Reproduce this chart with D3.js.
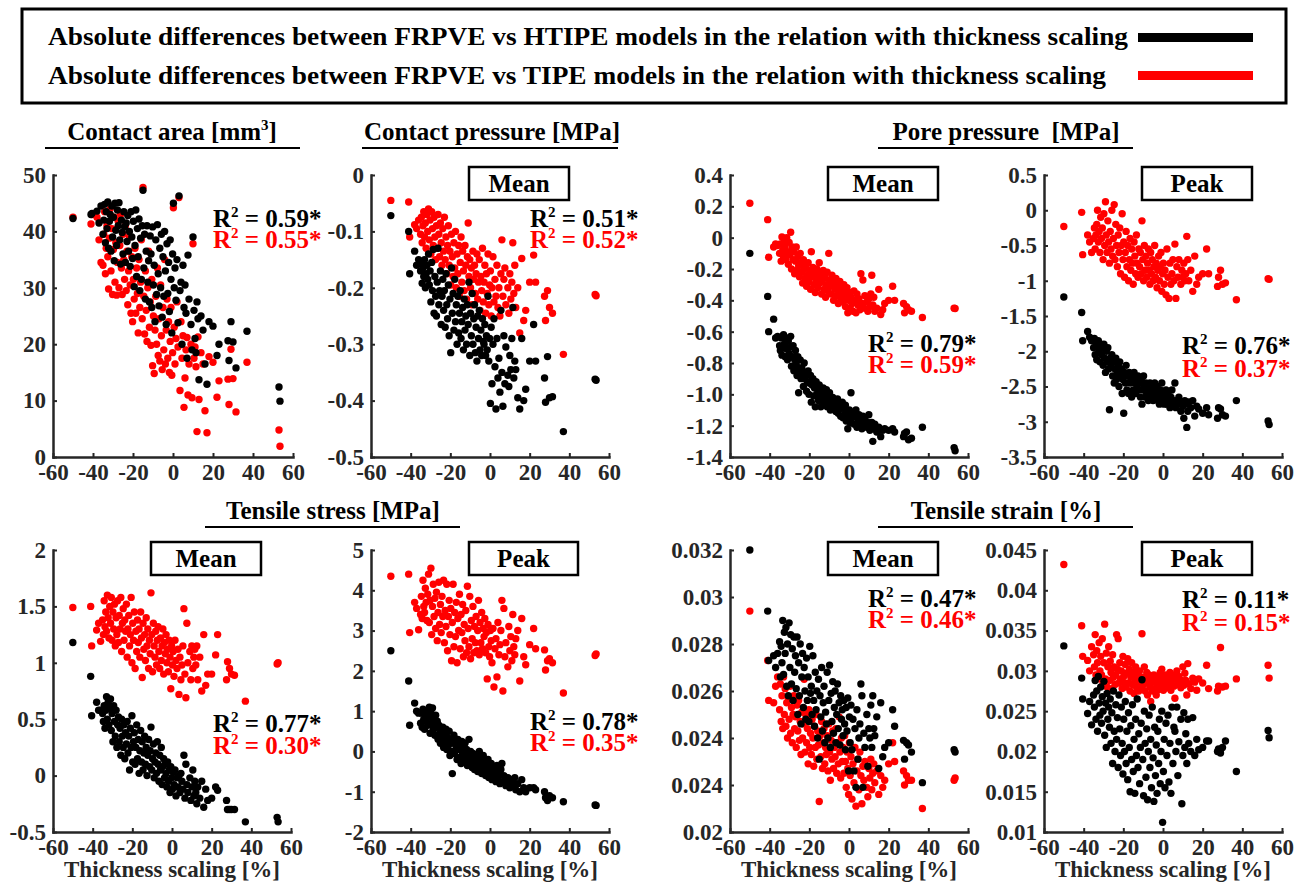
<!DOCTYPE html>
<html>
<head>
<meta charset="utf-8">
<script src="https://cdn.jsdelivr.net/npm/d3@7"></script>
<style>
body { margin:0; background:#fff; }
svg text { font-family: "Liberation Serif", "Times New Roman", serif; font-weight: bold; white-space: pre; }
</style>
</head>
<body>
<svg id="fig" width="1306" height="887"></svg>
<script>
// thickness scaling [%] of each case, shared by every panel
var thicknessScaling = [
  -50, -41, -40.5, -38, -37, -36,
  -35, -34.6, -34.2, -33.8, -33.4, -33, -32.6, -32.2, -31.8, -31.4,
  -31, -30.6, -30.2, -29.8, -29.4, -29, -28.6, -28.2, -27.8, -27.4,
  -27, -26.6, -26.2, -25.8, -25.4, -25, -24.6, -24.2, -23.8, -23.4,
  -23, -22.6, -22.2, -21.8, -21.4, -21, -20.6, -20.2, -19.8, -19.4,
  -19, -18.6, -18.2, -17.8, -17.4, -17, -16.6, -16.2, -15.8, -15.4,
  -15, -14.6, -14.2, -13.8, -13.4, -13, -12.6, -12.2, -11.8, -11.4,
  -11, -10.6, -10.2, -9.8, -9.4, -9, -8.6, -8.2, -7.8, -7.4,
  -7, -6.6, -6.2, -5.8, -5.4, -5, -4.6, -4.2, -3.8, -3.4,
  -3, -2.6, -2.2, -1.8, -1.4, -1, -0.6, -0.2, 0.2, 0.6,
  1, 1.5, 2, 2.5, 3, 3.5, 4, 4.5, 5, 5.5,
  6, 6.5, 7, 7.5, 8, 9, 9.5, 10, 10.5, 11,
  11.5, 12, 12.5, 13, 14, 15, 16, 17, 18, 20,
  22, 23, 27.5, 28, 29, 30, 31.5, 37, 53, 53.5
];

// contact area [mm3]
var contactAreaHTIPE = [
  42.3, 43.0, 43.2, 43.6, 41.5, 44.5,
  39.5, 42.0, 44.8, 38.0, 43.5, 40.5, 45.2, 37.0, 41.8, 43.0,
  36.5, 44.5, 39.0, 42.5, 34.8, 45.0, 40.2, 37.5, 43.8, 41.0,
  45.1, 38.5, 34.2, 42.0, 39.8, 36.0, 43.5, 40.8, 34.5, 41.5,
  38.2, 42.8, 36.5, 40.0, 33.8, 43.5, 39.0, 35.2, 41.8, 30.2,
  37.5, 43.8, 32.0, 40.5, 35.5, 42.2, 29.5, 38.8, 31.5, 41.0,
  47.3, 33.5, 39.5, 28.0, 36.5, 41.0, 31.0, 34.8, 27.5, 39.2,
  36.0, 26.5, 40.8, 30.5, 34.0, 24.0, 38.5, 28.8, 41.2, 32.5,
  26.8, 37.0, 30.0, 39.5, 24.8, 35.5, 28.5, 40.0, 33.0, 23.5,
  37.8, 29.0, 34.5, 25.8, 38.5, 31.5, 22.0, 36.0, 45.0, 30.0,
  33.5, 27.8, 35.0, 23.8, 46.3, 29.5, 31.0, 20.0, 34.0, 26.5,
  30.5, 25.5, 17.5, 35.8, 28.0, 23.5, 19.0, 39.0, 26.0, 21.0,
  18.5, 27.5, 24.5, 13.7, 25.0, 22.5, 16.5, 12.9, 24.0, 23.2,
  18.0, 20.0, 20.6, 17.1, 24.0, 20.4, 15.8, 22.3, 12.4, 9.9
];
var contactAreaTIPE = [
  42.5, 41.3, 43.0, 42.5, 38.5, 34.5,
  34.0, 39.5, 43.5, 32.5, 37.0, 41.0, 35.5, 29.8, 38.8, 44.0,
  33.0, 40.5, 28.8, 36.8, 42.5, 31.0, 38.0, 28.7, 34.5, 41.8,
  30.0, 37.5, 43.0, 33.5, 28.8, 39.5, 35.0, 31.5, 41.0, 29.5,
  36.5, 27.0, 33.0, 39.0, 30.5, 25.5, 35.5, 24.0, 31.5, 28.0,
  37.0, 25.5, 33.5, 29.0, 22.0, 35.0, 26.5, 31.0, 38.5, 24.5,
  47.8, 28.5, 21.8, 33.0, 26.0, 20.5, 30.0, 36.5, 23.0, 27.5,
  19.8, 31.5, 16.2, 25.0, 14.8, 22.5, 28.5, 20.0, 33.5, 18.0,
  24.5, 17.0, 30.5, 21.5, 15.5, 26.5, 19.0, 35.0, 16.5, 22.5,
  28.0, 17.5, 24.0, 15.0, 20.5, 26.5, 14.5, 18.5, 44.2, 23.0,
  16.5, 21.0, 27.5, 19.5, 46.0, 11.8, 24.0, 17.5, 21.5, 8.8,
  14.0, 19.0, 21.2, 11.0, 16.5, 20.0, 10.5, 37.8, 17.5, 19.5,
  16.0, 4.5, 21.3, 10.2, 18.5, 16.5, 8.2, 4.3, 17.8, 16.8,
  10.6, 13.5, 13.8, 9.3, 19.1, 13.9, 8.0, 16.8, 4.8, 1.9
];

// contact pressure, mean [MPa]
var contactPressureHTIPE = [
  -0.072, -0.100, -0.175, -0.135, -0.160, -0.150,
  -0.170, -0.155, -0.192, -0.165, -0.180, -0.150, -0.200, -0.175, -0.160, -0.185,
  -0.140, -0.195, -0.170, -0.225, -0.155, -0.205, -0.132, -0.245, -0.180, -0.215,
  -0.250, -0.190, -0.130, -0.230, -0.205, -0.170, -0.265, -0.215, -0.185, -0.240,
  -0.205, -0.270, -0.175, -0.230, -0.255, -0.195, -0.285, -0.220, -0.315, -0.165,
  -0.245, -0.210, -0.275, -0.185, -0.260, -0.230, -0.300, -0.215, -0.280, -0.245,
  -0.205, -0.290, -0.260, -0.235, -0.310, -0.220, -0.275, -0.250, -0.300, -0.230,
  -0.265, -0.190, -0.320, -0.245, -0.285, -0.210, -0.300, -0.255, -0.230, -0.315,
  -0.270, -0.330, -0.250, -0.290, -0.240, -0.310, -0.275, -0.320, -0.255, -0.295,
  -0.300, -0.265, -0.320, -0.285, -0.310, -0.215, -0.330, -0.290, -0.405, -0.270,
  -0.370, -0.300, -0.255, -0.340, -0.415, -0.290, -0.360, -0.325, -0.385, -0.240,
  -0.350, -0.410, -0.285, -0.370, -0.305, -0.355, -0.375, -0.320, -0.345, -0.290,
  -0.235, -0.360, -0.330, -0.345, -0.395, -0.415, -0.290, -0.400, -0.380, -0.330,
  -0.265, -0.330, -0.360, -0.403, -0.322, -0.395, -0.393, -0.455, -0.362, -0.364
];
var contactPressureTIPE = [
  -0.045, -0.048, -0.110, -0.088, -0.095, -0.080,
  -0.105, -0.075, -0.120, -0.090, -0.065, -0.110, -0.085, -0.130, -0.070, -0.100,
  -0.060, -0.115, -0.080, -0.140, -0.065, -0.095, -0.125, -0.075, -0.110, -0.150,
  -0.090, -0.130, -0.070, -0.105, -0.145, -0.085, -0.120, -0.160, -0.095, -0.135,
  -0.075, -0.150, -0.110, -0.175, -0.125, -0.090, -0.160, -0.135, -0.195, -0.105,
  -0.145, -0.180, -0.120, -0.165, -0.100, -0.200, -0.140, -0.175, -0.125, -0.215,
  -0.155, -0.110, -0.190, -0.135, -0.170, -0.205, -0.125, -0.160, -0.220, -0.145,
  -0.085, -0.180, -0.150, -0.200, -0.165, -0.230, -0.135, -0.185, -0.160, -0.210,
  -0.175, -0.140, -0.220, -0.190, -0.150, -0.240, -0.180, -0.205, -0.130, -0.225,
  -0.190, -0.160, -0.245, -0.175, -0.210, -0.140, -0.230, -0.195, -0.170, -0.250,
  -0.200, -0.145, -0.225, -0.185, -0.215, -0.160, -0.235, -0.200, -0.250, -0.175,
  -0.115, -0.215, -0.185, -0.165, -0.230, -0.200, -0.245, -0.175, -0.220, -0.190,
  -0.120, -0.210, -0.160, -0.235, -0.200, -0.280, -0.148, -0.258, -0.240, -0.190,
  -0.142, -0.190, -0.215, -0.258, -0.205, -0.235, -0.245, -0.318, -0.212, -0.214
];

// pore pressure, mean [MPa]
var poreMeanHTIPE = [
  -0.100, -0.375, -0.600, -0.520, -0.640, -0.630,
  -0.690, -0.720, -0.640, -0.750, -0.700, -0.620, -0.680, -0.760, -0.640, -0.710,
  -0.780, -0.660, -0.740, -0.700, -0.630, -0.820, -0.760, -0.690, -0.850, -0.780,
  -0.720, -0.810, -0.880, -0.760, -0.990, -0.840, -0.780, -0.900, -0.830, -0.870,
  -0.950, -0.800, -0.900, -0.860, -0.980, -0.920, -0.850, -1.000, -0.930, -0.880,
  -1.050, -0.940, -0.900, -1.010, -0.960, -1.080, -0.920, -1.000, -0.970, -1.040,
  -0.940, -1.020, -1.080, -0.980, -1.040, -0.960, -1.060, -1.000, -1.030, -0.970,
  -1.080, -1.010, -1.050, -0.990, -1.100, -1.040, -1.070, -1.020, -1.090, -1.050,
  -1.040, -1.110, -1.070, -1.030, -1.120, -1.060, -1.090, -1.140, -1.080, -1.050,
  -1.150, -1.090, -1.130, -1.070, -1.170, -1.110, -1.220, -1.140, -1.100, -1.180,
  -0.990, -1.150, -1.120, -1.190, -1.140, -1.100, -1.210, -1.160, -1.130, -1.200,
  -1.170, -1.220, -1.140, -1.190, -1.160, -1.210, -1.180, -1.130, -1.230, -1.200,
  -1.180, -1.300, -1.220, -1.190, -1.240, -1.210, -1.270, -1.230, -1.220, -1.230,
  -1.220, -1.240, -1.270, -1.250, -1.240, -1.290, -1.280, -1.210, -1.340, -1.360
];
var poreMeanTIPE = [
  0.220, 0.115, -0.125, -0.060, -0.040, -0.050,
  -0.100, -0.040, -0.150, 0.005, -0.080, -0.120, -0.020, -0.060, -0.140, 0.000,
  -0.090, -0.170, -0.030, -0.110, 0.035, -0.200, -0.060, -0.140, -0.090, -0.230,
  -0.150, -0.060, -0.210, -0.120, -0.180, -0.250, -0.100, -0.160, -0.220, -0.290,
  -0.140, -0.200, -0.260, -0.180, -0.310, -0.240, -0.160, -0.280, -0.210, -0.330,
  -0.090, -0.250, -0.190, -0.300, -0.230, -0.350, -0.270, -0.200, -0.320, -0.260,
  -0.160, -0.290, -0.230, -0.360, -0.270, -0.210, -0.330, -0.250, -0.380, -0.300,
  -0.220, -0.340, -0.100, -0.270, -0.310, -0.360, -0.240, -0.300, -0.400, -0.280,
  -0.330, -0.260, -0.370, -0.300, -0.420, -0.340, -0.280, -0.390, -0.320, -0.360,
  -0.410, -0.300, -0.350, -0.440, -0.380, -0.320, -0.480, -0.400, -0.350, -0.450,
  -0.380, -0.420, -0.470, -0.340, -0.400, -0.480, -0.360, -0.430, -0.390, -0.460,
  -0.230, -0.420, -0.270, -0.450, -0.370, -0.410, -0.470, -0.390, -0.440, -0.360,
  -0.240, -0.430, -0.380, -0.470, -0.450, -0.330, -0.490, -0.460, -0.420, -0.400,
  -0.310, -0.400, -0.420, -0.480, -0.440, -0.460, -0.470, -0.510, -0.450, -0.452
];

// pore pressure, peak [MPa]
var porePeakHTIPE = [
  -1.23, -1.45, -1.85, -1.72, -1.80, -1.85,
  -1.95, -1.82, -2.05, -1.88, -2.12, -1.92, -1.85, -2.00, -2.15, -1.90,
  -2.05, -1.95, -2.20, -1.90, -2.10, -2.30, -2.00, -2.15, -1.95, -2.25,
  -2.83, -2.10, -2.20, -2.05, -2.35, -2.15, -2.45, -2.25, -2.10, -2.40,
  -2.30, -2.20, -2.50, -2.15, -2.35, -2.25, -2.60, -2.40, -2.88, -2.30,
  -2.45, -2.20, -2.55, -2.35, -2.60, -2.30, -2.45, -2.40, -2.65, -2.35,
  -2.55, -2.30, -2.45, -2.60, -2.40, -2.50, -2.35, -2.55, -2.45, -2.65,
  -2.40, -2.75, -2.55, -2.35, -2.50, -2.65, -2.45, -2.60, -2.50, -2.70,
  -2.55, -2.45, -2.65, -2.50, -2.60, -2.70, -2.55, -2.45, -2.65, -2.60,
  -2.50, -2.70, -2.60, -2.75, -2.55, -2.65, -2.45, -2.70, -2.60, -2.75,
  -2.65, -2.55, -2.75, -2.60, -2.70, -2.80, -2.65, -2.55, -2.75, -2.70,
  -2.45, -2.80, -2.70, -2.75, -2.65, -2.85, -2.72, -2.78, -2.95, -2.70,
  -2.75, -3.08, -2.85, -2.72, -2.80, -2.70, -2.92, -2.78, -2.82, -2.88,
  -2.80, -2.90, -2.95, -2.80, -2.82, -2.90, -2.92, -2.70, -2.99, -3.04
];
var porePeakTIPE = [
  -0.23, -0.03, -0.63, -0.35, -0.45, -0.60,
  -0.40, -0.25, -0.55, -0.35, -0.20, 0.00, -0.45, -0.30, -0.60, -0.10,
  -0.40, -0.25, -0.70, -0.05, -0.50, 0.12, -0.35, -0.60, -0.15, -0.45,
  -0.75, -0.30, -0.55, 0.00, -0.65, -0.40, 0.08, -0.70, -0.20, -0.50,
  -0.80, -0.35, -0.60, -0.25, -0.90, -0.50, -0.05, -0.70, -0.45, -0.95,
  -0.60, -0.30, -0.80, -0.50, -1.00, -0.70, -0.40, -0.85, -0.55, -0.75,
  -1.05, -0.45, -0.65, -0.90, -0.35, -0.75, -0.95, -0.55, -0.80, -0.60,
  -0.90, -0.15, -0.70, -1.00, -0.50, -0.85, -0.65, -0.95, -0.75, -0.55,
  -0.85, -1.05, -0.60, -0.90, -0.70, -1.00, -0.80, -0.50, -0.95, -0.75,
  -1.10, -0.85, -0.65, -1.00, -0.80, -0.60, -1.15, -0.90, -0.75, -1.05,
  -0.85, -1.20, -0.55, -0.95, -1.25, -0.75, -1.05, -0.90, -0.70, -1.00,
  -0.48, -1.25, -0.80, -0.95, -0.70, -1.05, -0.85, -0.95, -0.75, -1.00,
  -0.90, -0.37, -0.70, -1.00, -0.85, -1.15, -0.65, -1.05, -0.95, -0.90,
  -0.55, -0.90, -1.08, -0.95, -0.85, -1.05, -1.03, -1.27, -0.97, -0.98
];

// tensile stress, mean [MPa]
var stressMeanHTIPE = [
  1.18, 0.88, 0.53, 0.65, 0.58, 0.58,
  0.55, 0.48, 0.62, 0.42, 0.58, 0.70, 0.50, 0.65, 0.45, 0.60,
  0.68, 0.40, 0.55, 0.30, 0.62, 0.48, 0.35, 0.58, 0.25, 0.45,
  0.52, 0.30, 0.42, 0.18, 0.50, 0.35, 0.25, 0.45, 0.15, 0.38,
  0.28, 0.48, 0.20, 0.35, 0.05, 0.42, 0.25, 0.53, 0.12, 0.30,
  0.38, 0.10, 0.25, 0.45, 0.15, 0.32, 0.02, 0.22, 0.40, 0.12,
  0.30, 0.05, 0.20, 0.35, 0.10, 0.25, 0.00, 0.18, 0.32, 0.08,
  0.22, 0.43, 0.05, 0.15, 0.28, -0.02, 0.12, 0.20, 0.02, 0.30,
  0.10, -0.05, 0.18, 0.05, 0.25, -0.08, 0.08, 0.15, -0.02, 0.10,
  0.02, -0.10, 0.12, -0.05, 0.05, -0.15, 0.08, -0.02, -0.12, 0.03,
  -0.08, 0.05, -0.18, -0.02, -0.10, 0.00, -0.15, 0.02, -0.05, -0.12,
  0.18, -0.20, 0.10, -0.08, -0.15, -0.02, -0.22, -0.10, 0.05, -0.18,
  -0.05, -0.15, -0.25, -0.10, -0.20, -0.05, -0.28, -0.12, -0.22, -0.20,
  -0.10, -0.13, -0.22, -0.30, -0.30, -0.30, -0.30, -0.41, -0.37, -0.41
];
var stressMeanTIPE = [
  1.49, 1.50, 1.15, 1.29, 1.35, 1.19,
  1.38, 1.25, 1.55, 1.32, 1.45, 1.28, 1.60, 1.40, 1.22, 1.50,
  1.35, 1.58, 1.20, 1.45, 1.30, 1.52, 1.15, 1.40, 1.25, 1.55,
  1.18, 1.42, 1.30, 1.58, 1.10, 1.35, 1.48, 1.20, 1.38, 1.28,
  1.52, 1.05, 1.30, 1.42, 1.15, 1.25, 1.58, 1.00, 1.35, 1.20,
  1.45, 0.95, 1.28, 1.10, 1.38, 1.18, 1.30, 1.05, 1.45, 1.22,
  0.87, 1.35, 1.12, 1.25, 1.02, 1.40, 1.15, 1.30, 0.95, 1.20,
  1.08, 1.62, 1.25, 0.92, 1.35, 1.15, 1.05, 1.28, 0.98, 1.20,
  1.32, 1.10, 0.95, 1.22, 1.02, 1.15, 1.30, 0.90, 1.18, 1.08,
  1.25, 1.00, 1.12, 0.92, 1.20, 1.05, 0.77, 1.15, 0.98, 1.10,
  0.88, 1.20, 1.02, 0.95, 1.12, 0.72, 1.05, 0.85, 0.98, 1.15,
  1.48, 0.90, 0.69, 1.35, 1.00, 1.10, 0.85, 1.15, 0.95, 1.05,
  1.12, 0.98, 1.15, 0.85, 1.05, 0.75, 1.25, 0.80, 0.90, 0.90,
  1.07, 1.25, 0.85, 1.01, 0.95, 0.90, 0.89, 0.66, 0.99, 1.00
];

// tensile stress, peak [MPa]
var stressPeakHTIPE = [
  2.50, 1.75, 0.65, 1.20, 1.00, 0.95,
  0.70, 0.95, 0.60, 1.05, 0.80, 0.55, 0.90, 0.75, 1.00, 0.65,
  0.85, 1.10, 0.45, 0.95, 0.70, 1.08, 0.55, 0.80, 0.40, 0.90,
  0.60, 0.75, 0.30, 0.65, 0.45, 0.20, 0.55, 0.35, 0.60, 0.10,
  0.45, 0.25, 0.55, 0.05, 0.35, 0.15, 0.50, -0.10, 0.30, 0.00,
  -0.55, 0.20, 0.40, -0.05, 0.25, 0.10, -0.20, 0.30, 0.05, -0.15,
  0.15, -0.30, 0.25, -0.05, 0.10, -0.25, 0.20, -0.10, 0.05, -0.35,
  -0.15, 0.30, -0.30, 0.00, -0.20, -0.40, -0.05, -0.25, -0.45, -0.10,
  -0.30, -0.15, -0.50, -0.25, 0.00, -0.40, -0.20, -0.55, -0.35, -0.10,
  -0.45, -0.25, -0.60, -0.35, -0.50, -0.20, -0.65, -0.40, -0.55, -0.30,
  -0.70, -0.45, -0.60, -0.50, -0.75, -0.35, -0.65, -0.55, -0.80, -0.45,
  -0.30, -0.75, -0.60, -0.70, -0.85, -0.65, -0.75, -0.90, -0.70, -0.80,
  -0.75, -0.85, -0.65, -0.95, -0.80, -1.00, -0.70, -0.90, -1.00, -0.90,
  -0.90, -0.95, -1.00, -1.15, -1.22, -1.10, -1.15, -1.25, -1.33, -1.34
];
var stressPeakTIPE = [
  4.35, 4.40, 2.95, 3.70, 3.55, 3.02,
  3.40, 3.85, 3.30, 4.25, 3.60, 3.45, 4.05, 3.70, 3.25, 3.90,
  4.40, 3.20, 3.75, 4.55, 2.90, 3.60, 4.15, 3.35, 3.80, 3.05,
  3.95, 2.75, 3.45, 4.20, 3.15, 3.65, 2.95, 3.85, 3.35, 4.25,
  2.70, 3.50, 3.10, 4.15, 2.50, 3.35, 3.75, 2.90, 3.55, 2.25,
  3.20, 4.15, 2.60, 3.45, 2.85, 3.70, 2.20, 3.30, 3.00, 3.90,
  2.55, 3.40, 2.95, 3.65, 2.35, 3.15, 2.75, 3.50, 2.45, 4.10,
  3.05, 2.60, 3.85, 2.30, 3.25, 2.80, 3.60, 2.45, 3.10, 2.70,
  3.35, 2.50, 3.00, 3.75, 2.40, 3.20, 2.70, 3.45, 2.55, 3.05,
  2.85, 3.30, 2.45, 2.95, 1.80, 3.15, 2.60, 2.35, 3.00, 2.75,
  2.20, 3.05, 1.60, 2.55, 2.80, 1.85, 3.20, 2.40, 2.65, 3.00,
  3.75, 1.50, 3.55, 2.35, 2.70, 2.10, 3.10, 2.50, 2.85, 2.25,
  3.40, 2.60, 2.40, 2.80, 3.00, 1.75, 3.30, 2.35, 2.15, 2.65,
  3.05, 2.55, 2.52, 2.02, 2.25, 2.30, 2.20, 1.45, 2.38, 2.42
];

// tensile strain, mean [%]
var strainMeanHTIPE = [
  0.0320, 0.0294, 0.0273, 0.0275, 0.0270, 0.0276,
  0.0281, 0.0266, 0.0279, 0.0272, 0.0290, 0.0267, 0.0285, 0.0276, 0.0287, 0.0262,
  0.0280, 0.0258, 0.0289, 0.0270, 0.0284, 0.0263, 0.0278, 0.0256, 0.0283, 0.0268,
  0.0275, 0.0261, 0.0283, 0.0250, 0.0272, 0.0258, 0.0280, 0.0246, 0.0266, 0.0276,
  0.0253, 0.0270, 0.0260, 0.0248, 0.0274, 0.0256, 0.0266, 0.0247, 0.0279, 0.0259,
  0.0262, 0.0250, 0.0275, 0.0256, 0.0245, 0.0268, 0.0252, 0.0260, 0.0240, 0.0265,
  0.0231, 0.0258, 0.0249, 0.0270, 0.0243, 0.0255, 0.0262, 0.0238, 0.0251, 0.0246,
  0.0268, 0.0240, 0.0256, 0.0271, 0.0236, 0.0259, 0.0247, 0.0264, 0.0242, 0.0253,
  0.0260, 0.0238, 0.0250, 0.0263, 0.0244, 0.0255, 0.0237, 0.0258, 0.0248, 0.0252,
  0.0241, 0.0256, 0.0246, 0.0235, 0.0253, 0.0243, 0.0257, 0.0226, 0.0249, 0.0238,
  0.0254, 0.0235, 0.0248, 0.0226, 0.0244, 0.0219, 0.0252, 0.0231, 0.0240, 0.0246,
  0.0263, 0.0258, 0.0219, 0.0242, 0.0236, 0.0250, 0.0228, 0.0244, 0.0240, 0.0254,
  0.0236, 0.0258, 0.0244, 0.0241, 0.0249, 0.0227, 0.0255, 0.0232, 0.0236, 0.0238,
  0.0252, 0.0245, 0.0239, 0.0231, 0.0238, 0.0237, 0.0234, 0.0221, 0.0235, 0.0234
];
var strainMeanTIPE = [
  0.0294, 0.0273, 0.0256, 0.0255, 0.0262, 0.0266,
  0.0252, 0.0263, 0.0247, 0.0258, 0.0244, 0.0266, 0.0250, 0.0261, 0.0245, 0.0255,
  0.0240, 0.0257, 0.0248, 0.0262, 0.0242, 0.0253, 0.0238, 0.0250, 0.0258, 0.0244,
  0.0249, 0.0236, 0.0254, 0.0243, 0.0256, 0.0239, 0.0247, 0.0233, 0.0251, 0.0240,
  0.0246, 0.0265, 0.0234, 0.0250, 0.0238, 0.0244, 0.0229, 0.0252, 0.0236, 0.0242,
  0.0233, 0.0248, 0.0240, 0.0228, 0.0245, 0.0236, 0.0250, 0.0231, 0.0243, 0.0237,
  0.0213, 0.0241, 0.0232, 0.0247, 0.0227, 0.0238, 0.0244, 0.0229, 0.0236, 0.0233,
  0.0241, 0.0226, 0.0246, 0.0234, 0.0222, 0.0239, 0.0231, 0.0243, 0.0227, 0.0236,
  0.0232, 0.0244, 0.0225, 0.0238, 0.0229, 0.0249, 0.0234, 0.0223, 0.0240, 0.0230,
  0.0236, 0.0225, 0.0241, 0.0230, 0.0219, 0.0234, 0.0227, 0.0216, 0.0238, 0.0224,
  0.0232, 0.0214, 0.0229, 0.0221, 0.0236, 0.0211, 0.0226, 0.0231, 0.0218, 0.0234,
  0.0224, 0.0212, 0.0228, 0.0222, 0.0230, 0.0219, 0.0215, 0.0227, 0.0223, 0.0231,
  0.0218, 0.0225, 0.0229, 0.0221, 0.0226, 0.0216, 0.0224, 0.0219, 0.0222, 0.0229,
  0.0238, 0.0230, 0.0226, 0.0220, 0.0224, 0.0222, 0.0222, 0.0210, 0.0222, 0.0223
];

// tensile strain, peak [%]
var strainPeakHTIPE = [
  0.0331, 0.0291, 0.0265, 0.0247, 0.0262, 0.0233,
  0.0270, 0.0255, 0.0288, 0.0240, 0.0275, 0.0225, 0.0293, 0.0260, 0.0245, 0.0280,
  0.0235, 0.0268, 0.0250, 0.0287, 0.0220, 0.0260, 0.0205, 0.0272, 0.0240, 0.0255,
  0.0230, 0.0265, 0.0210, 0.0248, 0.0185, 0.0275, 0.0225, 0.0200, 0.0258, 0.0215,
  0.0242, 0.0180, 0.0270, 0.0228, 0.0195, 0.0255, 0.0210, 0.0172, 0.0240, 0.0200,
  0.0262, 0.0185, 0.0225, 0.0165, 0.0248, 0.0205, 0.0150, 0.0232, 0.0190, 0.0258,
  0.0175, 0.0215, 0.0148, 0.0240, 0.0195, 0.0265, 0.0180, 0.0222, 0.0160, 0.0205,
  0.0235, 0.0289, 0.0190, 0.0145, 0.0250, 0.0210, 0.0168, 0.0228, 0.0140, 0.0200,
  0.0245, 0.0180, 0.0215, 0.0155, 0.0255, 0.0192, 0.0138, 0.0230, 0.0170, 0.0208,
  0.0148, 0.0225, 0.0185, 0.0240, 0.0160, 0.0200, 0.0250, 0.0112, 0.0175, 0.0215,
  0.0155, 0.0235, 0.0195, 0.0245, 0.0162, 0.0210, 0.0148, 0.0255, 0.0185, 0.0230,
  0.0225, 0.0200, 0.0255, 0.0170, 0.0212, 0.0240, 0.0135, 0.0195, 0.0248, 0.0205,
  0.0222, 0.0185, 0.0240, 0.0210, 0.0200, 0.0242, 0.0195, 0.0215, 0.0202, 0.0205,
  0.0213, 0.0213, 0.0200, 0.0203, 0.0198, 0.0205, 0.0213, 0.0175, 0.0226, 0.0217
];
var strainPeakTIPE = [
  0.0432, 0.0356, 0.0318, 0.0313, 0.0300, 0.0330,
  0.0320, 0.0305, 0.0345, 0.0295, 0.0325, 0.0310, 0.0290, 0.0335, 0.0300, 0.0318,
  0.0295, 0.0340, 0.0285, 0.0310, 0.0358, 0.0290, 0.0322, 0.0280, 0.0305, 0.0330,
  0.0288, 0.0312, 0.0298, 0.0278, 0.0320, 0.0292, 0.0305, 0.0283, 0.0295, 0.0345,
  0.0302, 0.0340, 0.0285, 0.0310, 0.0290, 0.0300, 0.0278, 0.0318, 0.0293, 0.0285,
  0.0308, 0.0280, 0.0297, 0.0315, 0.0285, 0.0302, 0.0275, 0.0292, 0.0310, 0.0283,
  0.0298, 0.0272, 0.0290, 0.0305, 0.0280, 0.0295, 0.0286, 0.0275, 0.0300, 0.0288,
  0.0278, 0.0346, 0.0292, 0.0283, 0.0305, 0.0275, 0.0290, 0.0298, 0.0270, 0.0285,
  0.0295, 0.0280, 0.0262, 0.0290, 0.0275, 0.0286, 0.0295, 0.0278, 0.0288, 0.0270,
  0.0283, 0.0292, 0.0277, 0.0287, 0.0298, 0.0280, 0.0302, 0.0289, 0.0276, 0.0293,
  0.0285, 0.0295, 0.0279, 0.0290, 0.0284, 0.0298, 0.0276, 0.0288, 0.0295, 0.0281,
  0.0266, 0.0290, 0.0300, 0.0283, 0.0293, 0.0279, 0.0288, 0.0305, 0.0282, 0.0297,
  0.0288, 0.0270, 0.0309, 0.0284, 0.0278, 0.0291, 0.0286, 0.0276, 0.0290, 0.0285,
  0.0307, 0.0278, 0.0275, 0.0281, 0.0329, 0.0280, 0.0281, 0.0290, 0.0307, 0.0291
];

var legendLabels = [
  "Absolute differences between FRPVE vs HTIPE models in the relation with thickness scaling",
  "Absolute differences between FRPVE vs TIPE models in the relation with thickness scaling"
];
var xTicks = [-60, -40, -20, 0, 20, 40, 60];
var r2HTIPE = ["0.59", "0.51", "0.79", "0.76", "0.77", "0.78", "0.47", "0.11"];
var r2TIPE  = ["0.55", "0.52", "0.59", "0.37", "0.30", "0.35", "0.46", "0.15"];
var subTitles = [null, "Mean", "Mean", "Peak", "Mean", "Peak", "Mean", "Peak"];
var xLabel = "Thickness scaling [%]";

var yTickSets = [
  [0, 10, 20, 30, 40, 50],
  [0, -0.1, -0.2, -0.3, -0.4, -0.5],
  [0.4, 0.2, 0, -0.2, -0.4, -0.6, -0.8, -1.0, -1.2, -1.4],
  [0.5, 0, -0.5, -1, -1.5, -2, -2.5, -3, -3.5],
  [2, 1.5, 1, 0.5, 0, -0.5],
  [5, 4, 3, 2, 1, 0, -1, -2],
  [0.032, 0.03, 0.028, 0.026, 0.024, 0.022, 0.02],
  [0.045, 0.04, 0.035, 0.03, 0.025, 0.02, 0.015, 0.01]
];
var yTickLabels = [
  ["0", "10", "20", "30", "40", "50"],
  ["0", "-0.1", "-0.2", "-0.3", "-0.4", "-0.5"],
  ["0.4", "0.2", "0", "-0.2", "-0.4", "-0.6", "-0.8", "-1.0", "-1.2", "-1.4"],
  ["0.5", "0", "-0.5", "-1", "-1.5", "-2", "-2.5", "-3", "-3.5"],
  ["2", "1.5", "1", "0.5", "0", "-0.5"],
  ["5", "4", "3", "2", "1", "0", "-1", "-2"],
  ["0.032", "0.03", "0.028", "0.026", "0.024", "0.024", "0.02"],
  ["0.045", "0.04", "0.035", "0.03", "0.025", "0.02", "0.015", "0.01"]
];
var blackSeries = [contactAreaHTIPE, contactPressureHTIPE, poreMeanHTIPE, porePeakHTIPE,
                   stressMeanHTIPE, stressPeakHTIPE, strainMeanHTIPE, strainPeakHTIPE];
var redSeries = [contactAreaTIPE, contactPressureTIPE, poreMeanTIPE, porePeakTIPE,
                 stressMeanTIPE, stressPeakTIPE, strainMeanTIPE, strainPeakTIPE];

var RED = "#ff0000", AX = "#262626";
var svg = d3.select("#fig");

// legend box
svg.append("rect").attr("x", 22).attr("y", 9).attr("width", 1264).attr("height", 94)
  .attr("fill", "none").attr("stroke", "#000").attr("stroke-width", 3);
legendLabels.forEach(function(t, i) {
  svg.append("text").attr("x", 48).attr("y", [45, 84][i]).attr("font-size", 25)
    .attr("textLength", [1080, 1058][i]).attr("lengthAdjust", "spacingAndGlyphs").text(t);
  svg.append("rect").attr("x", 1138).attr("y", [33, 71][i]).attr("width", 115).attr("height", 9)
    .attr("fill", ["#000", RED][i]);
});

// group titles with underline
var groups = [
  {parts: ["Contact area [mm", "3", "]"], cx: 172, y: 140, x1: 45, x2: 300},
  {parts: ["Contact pressure [MPa]"], cx: 492, y: 140, x1: 362, x2: 618},
  {parts: ["Pore pressure  [MPa]"], cx: 1006, y: 140, x1: 878, x2: 1133},
  {parts: ["Tensile stress [MPa]"], cx: 333, y: 519, x1: 205, x2: 460},
  {parts: ["Tensile strain [%]"], cx: 1006, y: 519, x1: 878, x2: 1133}
];
groups.forEach(function(g) {
  var t = svg.append("text").attr("x", g.cx).attr("y", g.y).attr("font-size", 25)
    .attr("text-anchor", "middle");
  t.append("tspan").text(g.parts[0]);
  if (g.parts.length > 1) {
    t.append("tspan").attr("font-size", 15).attr("dy", -10).text(g.parts[1]);
    t.append("tspan").attr("dy", 10).text(g.parts[2]);
  }
  svg.append("line").attr("x1", g.x1).attr("x2", g.x2).attr("y1", g.y + 8).attr("y2", g.y + 8)
    .attr("stroke", "#000").attr("stroke-width", 2.2);
});

// panel frames: left, top, width, height; R2 text position; label box width
var lefts = [53, 371, 730, 1044];
var frames = [];
for (var k = 0; k < 8; k++) {
  frames.push({left: lefts[k % 4], top: k < 4 ? 175 : 550, w: 238, h: 282});
}
frames[0].w = 240;
var r2Pos = [
  [213, 227, 248], [530, 227, 248], [868, 352, 373], [1182, 354, 377],
  [213, 732, 754], [530, 730, 751], [868, 607, 628], [1182, 608, 631]
];
var boxW = [0, 100, 110, 110, 110, 109, 110, 110];

frames.forEach(function(f, k) {
  var g = svg.append("g").attr("transform", "translate(" + f.left + "," + f.top + ")");
  var ticks = yTickSets[k];
  var x = d3.scaleLinear().domain([-60, 60]).range([0, f.w]);
  var y = d3.scaleLinear().domain([d3.min(ticks), d3.max(ticks)]).range([f.h, 0]);

  [redSeries[k], blackSeries[k]].forEach(function(vals, s) {
    g.append("g").selectAll("circle").data(vals).enter().append("circle")
      .attr("cx", function(d, i) { return x(thicknessScaling[i]); })
      .attr("cy", function(d) { return y(d); })
      .attr("r", 3.7)
      .attr("fill", s == 0 ? RED : "#000");
  });

  var ya = g.append("g").call(d3.axisLeft(y).tickValues(ticks)
    .tickFormat(function(d, i) { return yTickLabels[k][i]; })
    .tickSizeInner(-4).tickSizeOuter(0).tickPadding(7));
  var xa = g.append("g").attr("transform", "translate(0," + f.h + ")")
    .call(d3.axisBottom(x).tickValues(xTicks)
      .tickFormat(function(d) { return String(d); })
      .tickSizeInner(-4).tickSizeOuter(0).tickPadding(7));
  [ya, xa].forEach(function(a) {
    a.select(".domain").attr("stroke", AX).attr("stroke-width", 2.5).attr("stroke-linecap", "square");
    a.selectAll(".tick line").attr("stroke", AX).attr("stroke-width", 2);
    a.selectAll(".tick text").attr("fill", AX).attr("font-size", 23)
      .attr("font-family", "'Liberation Serif', 'Times New Roman', serif").attr("font-weight", "bold");
  });

  if (subTitles[k]) {
    g.append("rect").attr("x", 98).attr("y", -8).attr("width", boxW[k]).attr("height", 33)
      .attr("fill", "#fff").attr("stroke", "#000").attr("stroke-width", 2.5);
    g.append("text").attr("x", 98 + boxW[k] / 2).attr("y", 17).attr("text-anchor", "middle")
      .attr("font-size", 25).text(subTitles[k]);
  }

  if (k >= 4) {
    g.append("text").attr("x", f.w / 2).attr("y", f.h + 45).attr("text-anchor", "middle")
      .attr("font-size", 23).attr("fill", AX).text(xLabel);
  }

  [[r2HTIPE[k], "#000", r2Pos[k][1]], [r2TIPE[k], RED, r2Pos[k][2]]].forEach(function(r) {
    var t = svg.append("text").attr("x", r2Pos[k][0]).attr("y", r[2]).attr("font-size", 25).attr("fill", r[1]);
    t.append("tspan").text("R");
    t.append("tspan").attr("font-size", 15).attr("dy", -10).text("2");
    t.append("tspan").attr("dy", 10).text(" = " + r[0] + "*");
  });
});
</script>
</body>
</html>
